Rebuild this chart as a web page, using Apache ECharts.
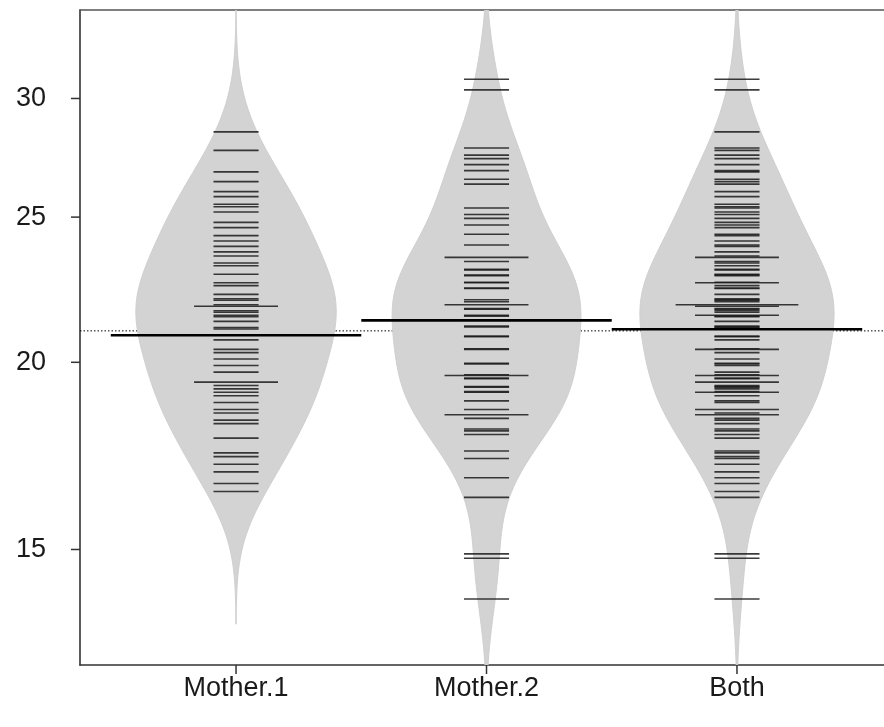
<!DOCTYPE html>
<html><head><meta charset="utf-8">
<script src="https://cdn.jsdelivr.net/npm/echarts@6/dist/echarts.min.js"></script>
<style>html,body{margin:0;padding:0;background:#fff}#c{width:884px;height:727px}</style>
</head><body><div id="c"></div>
<script>
const categories = ['Mother.1', 'Mother.2', 'Both'];
const mother1 = [28.5, 27.7, 26.8, 26.4, 26.0, 25.8, 25.5, 25.4, 25.2, 24.8,
  24.6, 24.3, 24.1, 23.9, 23.7, 23.55, 23.3, 23.2, 22.9, 22.6,
  22.5, 22.2, 22.05, 22.0, 21.85, 21.8, 21.8, 21.65, 21.6, 21.5,
  21.45, 21.3, 21.1, 21.05, 20.7, 20.4, 20.3, 20.1, 19.9, 19.7,
  19.4, 19.4, 19.3, 19.2, 19.1, 19.0, 18.8, 18.6, 18.5, 18.3,
  18.2, 17.8, 17.4, 17.3, 17.1, 16.9, 16.6, 16.4];
const mother2 = [30.9, 30.4, 27.8, 27.5, 27.35, 27.1, 26.85, 26.5, 26.3, 25.35,
  25.1, 24.95, 24.7, 24.35, 23.95, 23.5, 23.5, 23.35, 23.07, 23.05,
  22.87, 22.85, 22.62, 22.6, 22.42, 22.4, 22.02, 21.95, 21.85, 21.85,
  21.72, 21.7, 21.5, 21.47, 21.15, 21.12, 20.82, 20.8, 20.42, 20.4,
  19.97, 19.95, 19.62, 19.6, 19.6, 19.52, 19.5, 19.27, 19.25, 19.12,
  19.1, 18.85, 18.6, 18.45, 18.45, 18.35, 18.05, 18.0, 17.9, 17.45,
  17.25, 16.75, 16.25, 14.9, 14.8, 13.9];
const bothVals = [30.9, 30.4, 28.5, 27.8, 27.7, 27.5, 27.35, 27.1, 26.85, 26.8,
  26.5, 26.4, 26.3, 26.0, 25.8, 25.5, 25.4, 25.35, 25.2, 25.1,
  24.95, 24.8, 24.7, 24.6, 24.35, 24.3, 24.1, 23.95, 23.9, 23.7,
  23.55, 23.5, 23.5, 23.35, 23.3, 23.2, 23.07, 23.05, 22.9, 22.87,
  22.85, 22.62, 22.6, 22.6, 22.5, 22.42, 22.4, 22.2, 22.05,
  22.02, 22.0, 21.95, 21.85, 21.85, 21.85, 21.8, 21.8,
  21.72, 21.7, 21.65, 21.6, 21.5, 21.5, 21.47, 21.45,
  21.3, 21.15, 21.12, 21.1, 21.05, 20.82, 20.8, 20.7, 20.42,
  20.4, 20.4, 20.3, 20.1, 19.97, 19.95, 19.9, 19.7, 19.62, 19.6,
  19.6, 19.52, 19.5, 19.4, 19.4, 19.3, 19.27, 19.25, 19.2, 19.12,
  19.1, 19.1, 19.0, 18.85, 18.8, 18.6, 18.6, 18.5, 18.45, 18.45,
  18.35, 18.3, 18.2, 18.05, 18.0, 17.9, 17.8, 17.45, 17.4, 17.3,
  17.25, 17.1, 16.9, 16.75, 16.6, 16.4, 16.25, 14.9, 14.8, 13.9];
const beanMeans = [20.85, 21.33, 21.04];
const overallMean = 20.99;
const yTickValues = [15, 20, 25, 30];

const groups = [mother1, mother2, bothVals];
const Y_MIN = 12.56, Y_MAX = 34.37, X_MIN = 0.377, X_MAX = 3.587;
const BW = 0.068; // kernel bandwidth on log scale

function kde(vals) {
  const lx = vals.map(Math.log);
  const n = lx.length;
  const s = lx.slice().sort((a, b) => a - b);
  const from = s[0] - 3 * BW, to = s[n - 1] + 3 * BW;
  const pts = [];
  for (let i = 0; i < 300; i++) {
    const t = from + (to - from) * i / 299;
    let d = 0;
    for (const v of lx) { const z = (t - v) / BW; d += Math.exp(-0.5 * z * z); }
    pts.push([t, d / (n * BW * Math.sqrt(2 * Math.PI))]);
  }
  return pts;
}
const dens = groups.map(kde);
const maxD = Math.max(...dens.map(d => Math.max(...d.map(p => p[1]))));
const beanPolys = dens.map((d, i) => {
  const c = i + 1;
  const right = d.map(p => [c + 0.4 * p[1] / maxD, Math.exp(p[0])]);
  const left = d.slice().reverse().map(p => [c - 0.4 * p[1] / maxD, Math.exp(p[0])]);
  return right.concat(left);
});
const beanLineData = [];
groups.forEach((g, i) => {
  const counts = {};
  g.forEach(v => { counts[v] = (counts[v] || 0) + 1; });
  Object.keys(counts).forEach(k => beanLineData.push([i + 1, Number(k), counts[k]]));
});

const FONT = '"Liberation Sans", Arial, sans-serif';
const axisBase = { type: 'value', min: X_MIN, max: X_MAX, axisTick: { show: false }, axisLabel: { show: false }, splitLine: { show: false } };
const chart = echarts.init(document.getElementById('c'), null, { renderer: 'canvas' });
chart.setOption({
  animation: false,
  backgroundColor: '#ffffff',
  grid: { left: 80, top: 10, right: 0, bottom: 62, show: false },
  xAxis: [
    Object.assign({}, axisBase, { position: 'bottom', axisLine: { show: true, onZero: false, lineStyle: { color: '#333', width: 1.6 } } }),
    Object.assign({}, axisBase, { position: 'top', axisLine: { show: true, onZero: false, lineStyle: { color: '#555', width: 1.6 } } })
  ],
  yAxis: { type: 'log', logBase: 10, min: Y_MIN, max: Y_MAX, axisLine: { show: true, onZero: false, lineStyle: { color: '#333', width: 1.6 } }, axisTick: { show: false }, axisLabel: { show: false }, splitLine: { show: false } },
  series: [
    {
      type: 'line', z: 1, symbol: 'none', silent: true,
      data: [[X_MIN, overallMean], [X_MAX, overallMean]],
      lineStyle: { type: [1.5, 2], color: '#000', width: 1 }
    },
    {
      type: 'custom', z: 2, silent: true, clip: true,
      data: categories.map((c, i) => [i + 1, overallMean]),
      encode: { x: 0, y: 1 },
      renderItem: (params, api) => {
        const i = params.dataIndex;
        const pts = beanPolys[i].map(p => api.coord(p));
        return { type: 'polygon', shape: { points: pts }, style: { fill: '#d3d3d3', stroke: '#cfcfcf', lineWidth: 1 } };
      }
    },
    {
      type: 'custom', z: 3, silent: true, clip: true,
      data: beanLineData,
      encode: { x: 0, y: 1 },
      renderItem: (params, api) => {
        const x = api.value(0), v = api.value(1), cnt = api.value(2);
        const len = 0.18 + 0.155 * (cnt - 1);
        const p1 = api.coord([x - len / 2, v]), p2 = api.coord([x + len / 2, v]);
        return { type: 'line', shape: { x1: p1[0], y1: p1[1], x2: p2[0], y2: p2[1] }, style: { stroke: '#1a1a1a', lineWidth: 1.6, opacity: 0.85 } };
      }
    },
    {
      type: 'custom', z: 4, silent: true, clip: true,
      data: beanMeans.map((m, i) => [i + 1, m]),
      encode: { x: 0, y: 1 },
      renderItem: (params, api) => {
        const x = api.value(0), v = api.value(1);
        const p1 = api.coord([x - 0.5, v]), p2 = api.coord([x + 0.5, v]);
        return { type: 'line', shape: { x1: p1[0], y1: p1[1], x2: p2[0], y2: p2[1] }, style: { stroke: '#000', lineWidth: 2.6 } };
      }
    },
    {
      type: 'custom', z: 5, silent: true, clip: false,
      data: yTickValues.map(v => [X_MIN, v]),
      encode: { x: 0, y: 1 },
      renderItem: (params, api) => {
        const p = api.coord([api.value(0), api.value(1)]);
        return { type: 'group', children: [
          { type: 'line', shape: { x1: p[0] - 9, y1: p[1], x2: p[0], y2: p[1] }, style: { stroke: '#333', lineWidth: 1.5 } },
          { type: 'text', style: { text: String(api.value(1)), x: 46, y: p[1], align: 'right', verticalAlign: 'middle', font: '27px ' + FONT, fill: '#1a1a1a' } }
        ] };
      }
    },
    {
      type: 'custom', z: 5, silent: true, clip: false,
      data: categories.map((c, i) => [i + 1, Y_MIN]),
      encode: { x: 0, y: 1 },
      renderItem: (params, api) => {
        const p = api.coord([api.value(0), api.value(1)]);
        return { type: 'group', children: [
          { type: 'line', shape: { x1: p[0], y1: p[1], x2: p[0], y2: p[1] + 9 }, style: { stroke: '#333', lineWidth: 1.5 } },
          { type: 'text', style: { text: categories[params.dataIndex], x: p[0], y: p[1] + 24, align: 'center', verticalAlign: 'middle', font: '27px ' + FONT, fill: '#1a1a1a' } }
        ] };
      }
    }
  ]
});
</script>
</body></html>
